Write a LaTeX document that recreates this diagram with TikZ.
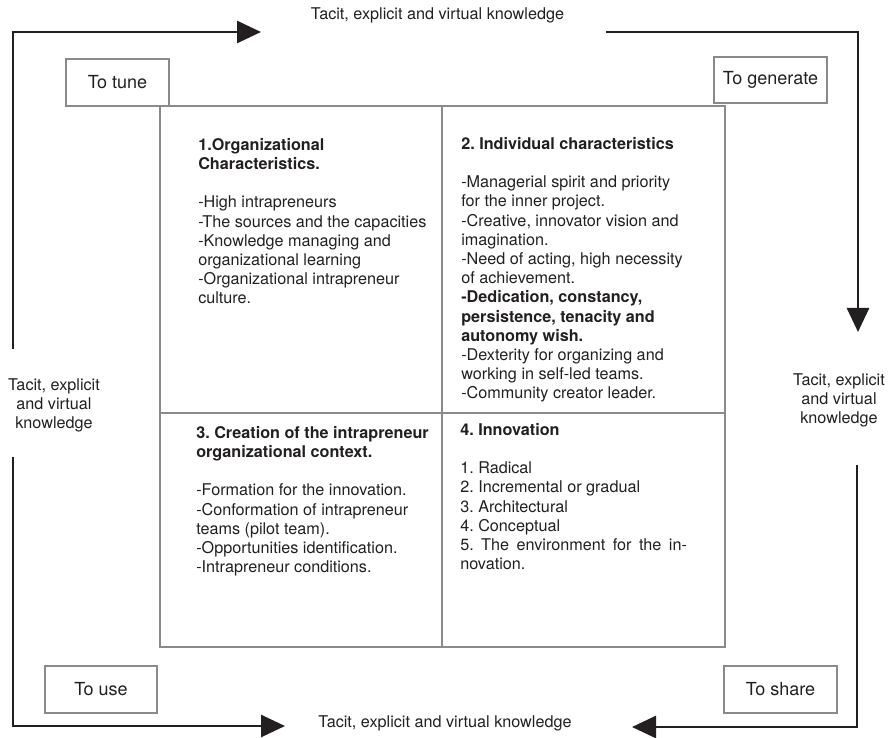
\documentclass[tikz,border=0pt]{standalone}
\usepackage{fontspec}
\setmainfont{TeX Gyre Heros}
\usetikzlibrary{positioning, arrows.meta}
\definecolor{ink}{HTML}{231F20}
\definecolor{framegray}{HTML}{8A8A8A}
\frenchspacing

\begin{document}
\begin{tikzpicture}[
    x=0.75pt, y=-0.75pt,
    flow/.style={draw=ink, line width=2pt, -{Triangle[length=18pt, width=16.5pt]}},
    knowledge/.style={font=\fontsize{12.15}{14.3}\selectfont, align=center, text=ink, inner sep=0pt},
    action/.style={rectangle, draw=framegray, line width=1.5pt, font=\fontsize{13.5}{16}\selectfont, text=ink, minimum width=84.5pt, minimum height=35.3pt, inner sep=0pt},
    cellframe/.style={rectangle, draw=framegray, line width=1.5pt, outer sep=0pt, inner sep=0pt},
    celltext/.style={font=\fontsize{12.15}{14.4}\selectfont, align=left, text=ink, inner sep=0pt}
]
\useasboundingbox (0,0) rectangle (890,738);

% Quadrants
\node[cellframe, minimum width=211.5pt, minimum height=230.25pt, anchor=north west] (c1) at (160,106) {};
\node[cellframe, minimum width=212.25pt, minimum height=230.25pt, right=0pt of c1] (c2) {};
\node[cellframe, minimum width=211.5pt, minimum height=175.5pt, below=0pt of c1] (c3) {};
\node[cellframe, minimum width=212.25pt, minimum height=175.5pt, right=0pt of c3] (c4) {};

% Quadrant texts
\node[celltext, below right=24pt and 28.5pt of c1.north west] (t1) {\textbf{1.Organizational}\\ \textbf{Characteristics.}\\[14.4pt]
    -High intrapreneurs\\ -The sources and the capacities\\ -Knowledge managing and\\ organizational learning\\
    -Organizational intrapreneur\\ culture.};
\node[celltext, below right=23.25pt and 14.25pt of c2.north west] (t2) {\textbf{2. Individual characteristics}\\[14.4pt]
    -Managerial spirit and priority\\ for the inner project.\\ -Creative, innovator vision and\\ imagination.\\
    -Need of acting, high necessity\\ of achievement.\\ \textbf{-Dedication, constancy,}\\
    \textbf{persistence, tenacity and}\\ \textbf{autonomy wish.}\\ -Dexterity for organizing and\\
    working in self-led teams.\\ -Community creator leader.};
\node[celltext, below right=9.75pt and 27pt of c3.north west] (t3) {\textbf{3. Creation of the intrapreneur}\\ \textbf{organizational context.}\\[14.4pt]
    -Formation for the innovation.\\ -Conformation of intrapreneur\\ teams (pilot team).\\
    -Opportunities identification.\\ -Intrapreneur conditions.};
\node[celltext, below right=7.5pt and 13.5pt of c4.north west] (t4) {\textbf{4. Innovation}\\[14.4pt]
    1. Radical\\ 2. Incremental or gradual\\ 3. Architectural\\ 4. Conceptual\\
    \makebox[170pt][s]{5. The environment for the in-}\\ novation.};

% Corner actions
\node[action, minimum width=77.3pt] (tune) at (117.5,82.5) {To tune};
\node[action, minimum height=34.5pt] (generate) at (770.5,80) {To generate};
\node[action, minimum width=84pt] (use) at (101,689.5) {To use};
\node[action] (share) at (780.5,689.5) {To share};

% Knowledge labels
\node[knowledge, anchor=base] (ktop) at (437.5,20) {Tacit, explicit and virtual knowledge};
\node[knowledge, anchor=base] (kbottom) at (445,727) {Tacit, explicit and virtual knowledge};
\node[knowledge, anchor=north] (kleft) at (54,378) {Tacit, explicit\\ and virtual\\ knowledge};
\node[knowledge, anchor=north] (kright) at (839,373) {Tacit, explicit\\ and virtual\\ knowledge};

% Knowledge flow
\coordinate (leftup) at (13,349);
\coordinate (topin) at (261,32);
\coordinate (topout) at (606,32);
\coordinate (rightin) at (858,332);
\coordinate (rightout) at (857,465);
\coordinate (bottomin) at (632,727);
\coordinate (leftdown) at (13,457);
\coordinate (bottomleftin) at (285,726);

\draw[flow] (leftup) |- (topin);
\draw[flow] (topout) -| (rightin);
\draw[flow] (rightout) |- (bottomin);
\draw[flow] (leftdown) |- (bottomleftin);

\end{tikzpicture}
\end{document}
